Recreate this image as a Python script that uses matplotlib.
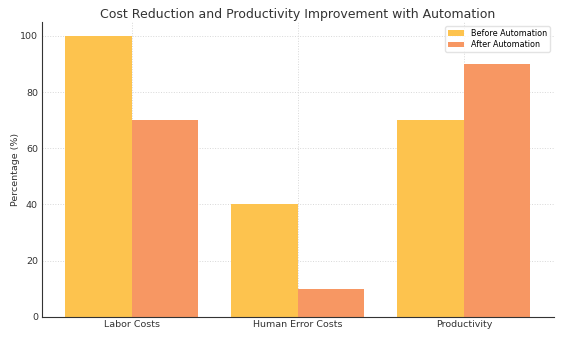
import matplotlib
matplotlib.use("Agg")
import matplotlib.pyplot as plt
import numpy as np

categories = ["Labor Costs", "Human Error Costs", "Productivity"]
before = [100, 40, 70]
after = [70, 10, 90]
series_names = ["Before Automation", "After Automation"]
colors = ["#FDC34E", "#F79763"]

fig, ax = plt.subplots(figsize=(5.62, 3.37), dpi=100)
fig.subplots_adjust(left=0.075, right=0.985, top=0.935, bottom=0.06)
x = np.arange(len(categories))
w = 0.4
ax.bar(x - w/2, before, w, color=colors[0], label=series_names[0], zorder=2)
ax.bar(x + w/2, after, w, color=colors[1], label=series_names[1], zorder=2)
ax.set_xticks(x)
ax.set_xticklabels(categories, fontsize=6.8, color="#333333")
ax.tick_params(axis="y", labelsize=6.8, labelcolor="#333333", length=0, pad=3)
ax.tick_params(axis="x", length=3, color="#333333", pad=2, direction="in")
ax.set_ylabel("Percentage (%)", fontsize=6.8, color="#333333", labelpad=0)
ax.set_title("Cost Reduction and Productivity Improvement with Automation", fontsize=9, color="#333333", pad=3)
ax.grid(True, color="#d8d8d8", linestyle=":", linewidth=0.7, zorder=0)
for s in ["top", "right"]:
    ax.spines[s].set_visible(False)
for s in ["left", "bottom"]:
    ax.spines[s].set_color("#333333")
    ax.spines[s].set_linewidth(0.8)
ax.legend(fontsize=5.8, loc="upper right", frameon=True, edgecolor="#dddddd",
          borderaxespad=0.5, labelspacing=0.3, borderpad=0.35, handlelength=2.0)
fig.savefig("out.png", dpi=100)
